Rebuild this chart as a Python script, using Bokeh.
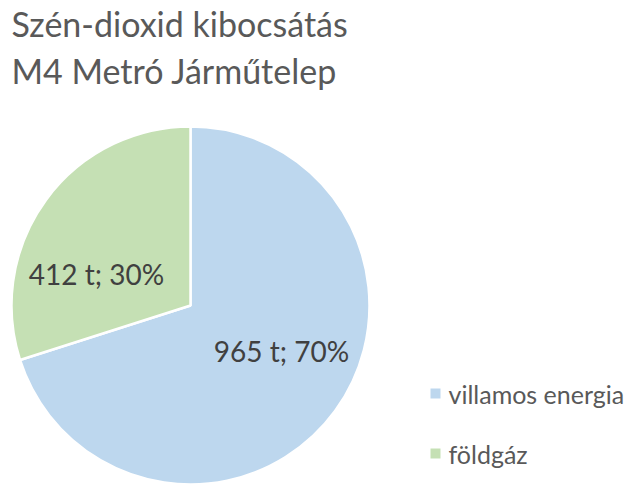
import numpy as np
from bokeh.plotting import figure
from bokeh.models import Range1d, ColumnDataSource
from bokeh.core.properties import value
from bokeh.embed import file_html
from bokeh.resources import INLINE

# ---- data ----
categories = ["villamos energia", "földgáz"]
tonnes = [965, 412]
colors = ["#BDD7EE", "#C5E0B4"]
title_lines = ["Szén-dioxid kibocsátás", "M4 Metró Járműtelep"]

# ---- layout ----
W, H = 628, 486
FONT = "Lato"


def px(xp):
    return xp


def py(yp):
    return H - yp


cx, cy, R = px(190), py(305), 179

total = float(sum(tonnes))
frac = np.array(tonnes) / total
cum = np.concatenate([[0.0], np.cumsum(frac)])
start = np.pi / 2 - cum[:-1] * 2 * np.pi
end = np.pi / 2 - cum[1:] * 2 * np.pi
label_text = [f"{t} t; {round(f * 100)}%" for t, f in zip(tonnes, frac)]

p = figure(width=W, height=H, output_backend="svg", toolbar_location=None,
           x_range=Range1d(0, W), y_range=Range1d(0, H),
           x_axis_location=None, y_axis_location=None, min_border=0)
p.grid.visible = False
p.outline_line_color = None
p.background_fill_color = "white"

src = ColumnDataSource(dict(start=start, end=end, color=colors, cat=categories))
p.wedge(x=cx, y=cy, radius=R, start_angle="start", end_angle="end",
        direction="clock", fill_color="color", line_color="white",
        line_width=2.5, source=src)

# slice labels (layout offsets from the centre, in pixels)
label_off = [(91, -45), (-94, 32)]
lx = [cx + dx for dx, dy in label_off]
ly = [cy + dy for dx, dy in label_off]
p.text(x=lx, y=ly, text=label_text, text_align="center", text_baseline="middle",
       text_font=value(FONT), text_font_size="28px", text_color="#404040")

# title
p.text(x=[px(11), px(11)], y=[py(23), py(70)], text=title_lines,
       text_align="left", text_baseline="middle", text_font=value(FONT),
       text_font_size="34px", text_color="#595959")

# legend
leg_y = [py(393), py(453)]
p.scatter(x=[px(435)] * len(categories), y=leg_y, marker="square", size=10,
          fill_color=colors, line_color=None)
p.text(x=[px(448)] * len(categories), y=leg_y, text=categories,
       text_align="left", text_baseline="middle", text_font=value(FONT),
       text_font_size="25px", text_color="#595959")

open("out.html", "w").write(file_html(p, INLINE))
